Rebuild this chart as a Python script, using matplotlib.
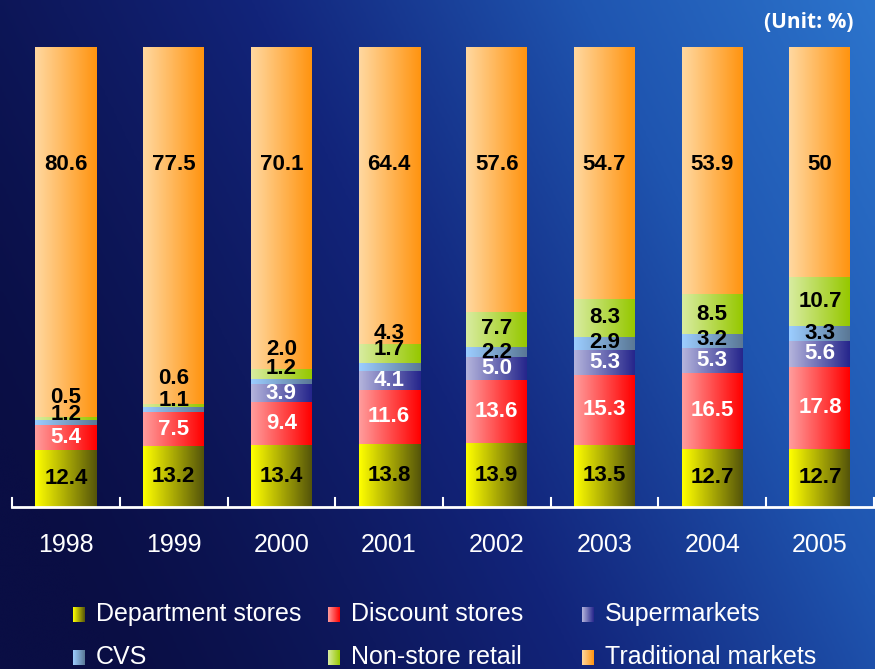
import numpy as np
import matplotlib.pyplot as plt
from matplotlib.colors import LinearSegmentedColormap

# data (unit: %)
years = ['1998', '1999', '2000', '2001', '2002', '2003', '2004', '2005']
dept = [12.4, 13.2, 13.4, 13.8, 13.9, 13.5, 12.7, 12.7]
discount = [5.4, 7.5, 9.4, 11.6, 13.6, 15.3, 16.5, 17.8]
superm = [0, 0, 3.9, 4.1, 5.0, 5.3, 5.3, 5.6]
cvs = [1.2, 1.1, 1.2, 1.7, 2.2, 2.9, 3.2, 3.3]
nonstore = [0.5, 0.6, 2.0, 4.3, 7.7, 8.3, 8.5, 10.7]
trad = [80.6, 77.5, 70.1, 64.4, 57.6, 54.7, 53.9, 50]
labels = ['Department stores', 'Discount stores', 'Supermarkets',
          'CVS', 'Non-store retail', 'Traditional markets']

series = [dept, discount, superm, cvs, nonstore, trad]
# gradient colours: light (left) -> dark (right)
grads = [('#ffff00', '#55550a'), ('#ff9c9c', '#ff0000'), ('#b4b4dc', '#26268c'),
         ('#9ccdff', '#5a7896'), ('#d8eca0', '#96c800'), ('#ffd8a0', '#ff9410')]
txtcol = ['black', 'white', 'white', 'black', 'black', 'black']
# small label shifts (data units) for thin segments
shift_cvs = [1.6, 1.8, 2.9, 3.8, 0, 0.2, 0.3, 0]
shift_ns = [4.6, 5.9, 5.4, 4.4, 0.3, 0, 0, 0]

plt.rcParams['font.family'] = ['Liberation Sans', 'DejaVu Sans']

fig = plt.figure(figsize=(8.75, 6.69), dpi=100)

# background
bg = fig.add_axes([0, 0, 1, 1])
gx, gy = np.meshgrid(np.linspace(0, 1, 300), np.linspace(0, 1, 300))
t = np.clip(0.8 * gx + 0.3 * (1 - gy) - 0.1, 0, 1) ** 1.3
bgcmap = LinearSegmentedColormap.from_list('bg', ['#0a0e44', '#12247a', '#1f55b0', '#2c74cc'])
bg.imshow(t, cmap=bgcmap, extent=[0, 1, 0, 1], aspect='auto', origin='upper',
          interpolation='bicubic')
bg.set_axis_off()

ax = fig.add_axes([0, (669 - 507) / 669, 1, 460 / 669])
ax.set_facecolor('none')
step = 107.7
xl = (-66 / step, (875 - 66) / step)
w = 61 / step
ramp = np.linspace(0, 1, 64).reshape(1, -1)

for i in range(len(years)):
    bottom = 0
    for k, s in enumerate(series):
        v = s[i]
        if v > 0:
            cm = LinearSegmentedColormap.from_list('g%d' % k, grads[k])
            ax.imshow(ramp, cmap=cm, extent=[i - w / 2, i + w / 2, bottom, bottom + v],
                      aspect='auto', interpolation='bicubic', zorder=2)
        bottom += v

    # value labels
    bottom = 0
    for k, s in enumerate(series):
        v = s[i]
        y = bottom + v / 2
        if k == 3:
            y += shift_cvs[i]
        elif k == 4:
            y += shift_ns[i]
        elif k == 5:
            y = 74.4
        bottom += v
        if v <= 0:
            continue
        ax.text(i, y, ('%g' % v) if k == 5 else '%.1f' % v, ha='center', va='center',
                fontsize=16, fontweight='bold', color=txtcol[k], zorder=4)

ax.set_xlim(*xl)
ax.set_ylim(0, 100)
ax.set_axis_off()

# x axis line and ticks
ax.plot([-0.5, xl[1]], [0, 0], color='white', lw=2, clip_on=False, zorder=5)
for b in np.arange(-0.5, 8, 1):
    ax.plot([b, b], [0, 2], color='white', lw=1.5, clip_on=False, zorder=5)
for i, yr in enumerate(years):
    ax.text(i, -8.2, yr, ha='center', va='center', fontsize=18, color='white')

fig.text(853 / 875, 1 - 22 / 669, '(Unit: %)', ha='right', va='center',
         fontsize=15, fontweight='bold', color='white', family=['Open Sans', 'DejaVu Sans'])

# legend
lx = [73, 328, 582]
ly = [614, 657]
for k, lab in enumerate(labels):
    x0 = lx[k % 3]
    y0 = ly[k // 3]
    lax = fig.add_axes([x0 / 875, 1 - (y0 + 8) / 669, 12 / 875, 15 / 669])
    cm = LinearSegmentedColormap.from_list('l%d' % k, grads[k])
    lax.imshow(ramp, cmap=cm, aspect='auto', extent=[0, 1, 0, 1])
    lax.set_axis_off()
    fig.text((x0 + 23) / 875, 1 - y0 / 669, lab, ha='left', va='center',
             fontsize=18, color='white')

fig.savefig('out.png', dpi=100)
